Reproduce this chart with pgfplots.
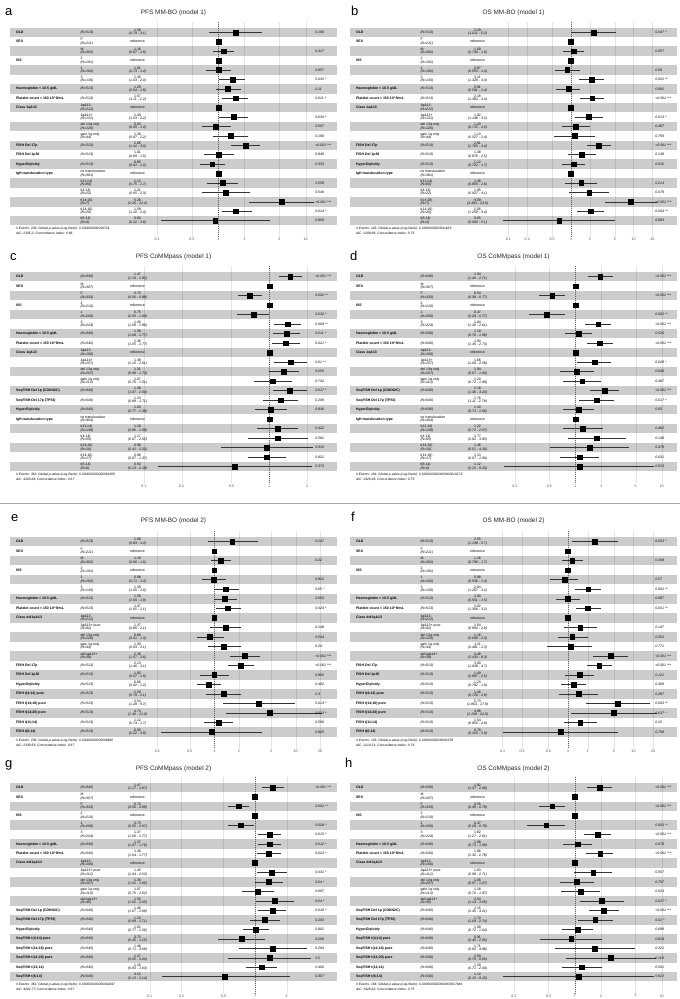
\documentclass[border=0pt]{standalone}
\usepackage{fontspec}
\setmainfont{Liberation Sans}
\usepackage{pgfplots}
\usepackage{pgfplotstable}
\pgfplotsset{compat=1.18}

\tikzset{
 vn/.style={anchor=west,inner sep=0pt,font=\fontsize{3.5}{3.4}\selectfont\bfseries},
 nn/.style={anchor=west,inner sep=0pt,align=left,font=\fontsize{3.5}{3.3}\selectfont},
 en/.style={anchor=center,inner sep=0pt,align=center,font=\fontsize{3.5}{3.3}\selectfont},
 pn/.style={anchor=west,inner sep=0pt,font=\fontsize{3.5}{3.4}\selectfont\itshape},
 fn/.style={anchor=west,inner sep=0pt,align=left,font=\fontsize{3.3}{5}\selectfont\itshape},
 ttl/.style={anchor=base,inner sep=0pt,font=\fontsize{6.4}{7}\selectfont,text=black!85},
 lett/.style={anchor=base west,inner sep=0pt,font=\fontsize{13}{15}\selectfont},
}
\pgfplotsset{forestax/.style={
 scale only axis, width=327pt, anchor=north west,
 y dir=reverse, ymin=-0.1, ymax=22.75,
 axis line style={draw=none}, major tick style={draw=none}, minor tick style={draw=none},
 ytick=\empty, xmajorgrids, grid style={black!10,line width=0.4pt},
 clip=false,
 xticklabel style={font=\fontsize{3.6}{4}\selectfont, text=black!70, inner sep=1pt},
}}

% text helpers
\newcommand\V[3]{\node[vn] at ({rel axis cs:0.018,0}|-{axis cs:1,#1}) {#2};\node[nn] at ({rel axis cs:0.215,0}|-{axis cs:1,#1}) {\itshape #3};}
\newcommand\VL[4]{\node[vn] at ({rel axis cs:0.018,0}|-{axis cs:1,#1}) {#2};\node[nn] at ({rel axis cs:0.215,0}|-{axis cs:1,#1}) {#3\\\itshape #4};}
\newcommand\E[4]{\node[en] at ({rel axis cs:0.39,0}|-{axis cs:1,#1}) {#2\\\itshape #3};\node[pn] at ({rel axis cs:0.933,0}|-{axis cs:1,#1}) {#4};}
\newcommand\Eref[1]{\node[en] at ({rel axis cs:0.39,0}|-{axis cs:1,#1}) {reference};}
\newcommand\Foot[2]{\node[fn] at ({rel axis cs:0.018,0}|-{axis cs:1,22.12}) {#1\\#2};}
\newcommand\Sb[2]{\fill[black,fill opacity=0.2] ({rel axis cs:0,0}|-{axis cs:1,#1}) rectangle ({rel axis cs:1,0}|-{axis cs:1,#2});}
\newcommand\Stripes{\Sb{0.5}{1.5}\Sb{2.5}{3.5}\Sb{4.5}{5.5}\Sb{6.5}{7.5}\Sb{8.5}{9.5}\Sb{10.5}{11.5}\Sb{12.5}{13.5}\Sb{14.5}{15.5}\Sb{16.5}{17.5}\Sb{18.5}{19.5}\Sb{20.5}{21.5}}
\newcommand\RefLine{\addplot[black!60, dash pattern=on 1pt off 1pt, line width=0.35pt] coordinates {(1,-0.1) (1,22.75)};}
\newcommand\Forest[1]{\addplot[black, only marks, mark=square*, mark size=2.4pt,
  error bars/.cd, x dir=both, x explicit, error mark=none, error bar style={black!80,line width=0.5pt}]
  table[x=hr,y=row,x error plus expr=\thisrow{hi}-\thisrow{hr},x error minus expr=\thisrow{hr}-\thisrow{lo}] {#1};}

% label sets
\newcommand\LabMMBOone{%
\V{1}{OLD}{(N=513)}
\VL{2}{SEX}{F}{(N=211)}
\VL{3}{}{M}{(N=302)}
\VL{4}{ISS}{2}{(N=191)}
\VL{5}{}{1}{(N=192)}
\VL{6}{}{3}{(N=130)}
\V{7}{Haemoglobin < 10.5 g/dL}{(N=513)}
\V{8}{Platelet count < 150 10\textasciicircum{}9/mL}{(N=513)}
\VL{9}{Class 1q\&13}{1q\&13-}{(N=212)}
\VL{10}{}{1q\&13+}{(N=131)}
\VL{11}{}{del 13q only}{(N=126)}
\VL{12}{}{gain 1q only}{(N=44)}
\V{13}{FISH Del 17p}{(N=513)}
\V{14}{FISH Del 1p36}{(N=513)}
\V{15}{HyperDiploidy}{(N=513)}
\VL{16}{IgH translocation type}{no translocation}{(N=381)}
\VL{17}{}{t(11;14)}{(N=80)}
\VL{18}{}{t(4;14)}{(N=22)}
\VL{19}{}{t(14;20)}{(N=7)}
\VL{20}{}{t(14;16)}{(N=20)}
\VL{21}{}{t(6;14)}{(N=3)}
\Eref{2}\Eref{4}\Eref{9}\Eref{16}}

\newcommand\LabCMone{%
\V{1}{OLD}{(N=640)}
\VL{2}{SEX}{M}{(N=307)}
\VL{3}{}{F}{(N=333)}
\VL{4}{ISS}{2}{(N=210)}
\VL{5}{}{1}{(N=206)}
\VL{6}{}{3}{(N=224)}
\V{7}{Haemoglobin < 10.5 g/dL}{(N=640)}
\V{8}{Platelet count < 150 10\textasciicircum{}9/mL}{(N=640)}
\VL{9}{Class 1q\&13}{1q\&13-}{(N=166)}
\VL{10}{}{1q\&13+}{(N=157)}
\VL{11}{}{del 13q only}{(N=207)}
\VL{12}{}{gain 1q only}{(N=110)}
\V{13}{SeqFISH Del 1p (CDKN2C)}{(N=640)}
\V{14}{SeqFISH Del 17p (TP53)}{(N=640)}
\V{15}{HyperDiploidy}{(N=640)}
\VL{16}{IgH translocation type}{no translocation}{(N=404)}
\VL{17}{}{t(11;14)}{(N=138)}
\VL{18}{}{t(4;14)}{(N=65)}
\VL{19}{}{t(14;20)}{(N=10)}
\VL{20}{}{t(14;16)}{(N=17)}
\VL{21}{}{t(6;14)}{(N=6)}
\Eref{2}\Eref{4}\Eref{9}\Eref{16}}

\newcommand\LabMMBOtwo{%
\V{1}{OLD}{(N=513)}
\VL{2}{SEX}{F}{(N=211)}
\VL{3}{}{M}{(N=302)}
\VL{4}{ISS}{2}{(N=191)}
\VL{5}{}{1}{(N=192)}
\VL{6}{}{3}{(N=130)}
\V{7}{Haemoglobin < 10.5 g/dL}{(N=513)}
\V{8}{Platelet count < 150 10\textasciicircum{}9/mL}{(N=513)}
\VL{9}{Class del1q\&13}{1q\&13-}{(N=212)}
\VL{10}{}{1q\&13+ pure}{(N=92)}
\VL{11}{}{del 13q only}{(N=126)}
\VL{12}{}{gain 1q only}{(N=44)}
\VL{13}{}{del1q\&13+}{(N=39)}
\V{14}{FISH Del 17p}{(N=513)}
\V{15}{FISH Del 1p36}{(N=513)}
\V{16}{HyperDiploidy}{(N=513)}
\V{17}{FISH t(4;14) pure}{(N=513)}
\V{18}{FISH t(14;16) pure}{(N=513)}
\V{19}{FISH t(14;20) pure}{(N=513)}
\V{20}{FISH t(11;14)}{(N=513)}
\V{21}{FISH t(6;14)}{(N=513)}
\Eref{2}\Eref{4}\Eref{9}}

\newcommand\LabCMtwo{%
\V{1}{OLD}{(N=640)}
\VL{2}{SEX}{M}{(N=307)}
\VL{3}{}{F}{(N=333)}
\VL{4}{ISS}{2}{(N=210)}
\VL{5}{}{1}{(N=206)}
\VL{6}{}{3}{(N=224)}
\V{7}{Haemoglobin < 10.5 g/dL}{(N=640)}
\V{8}{Platelet count < 150 10\textasciicircum{}9/mL}{(N=640)}
\VL{9}{Class del1q\&13}{1q\&13-}{(N=166)}
\VL{10}{}{1q\&13+ pure}{(N=112)}
\VL{11}{}{del 13q only}{(N=207)}
\VL{12}{}{gain 1q only}{(N=110)}
\VL{13}{}{del1q\&13+}{(N=45)}
\V{14}{SeqFISH Del 1p (CDKN2C)}{(N=640)}
\V{15}{SeqFISH Del 17p (TP53)}{(N=640)}
\V{16}{HyperDiploidy}{(N=640)}
\V{17}{SeqFISH t(4;14) pure}{(N=640)}
\V{18}{SeqFISH t(14;16) pure}{(N=640)}
\V{19}{SeqFISH t(14;20) pure}{(N=640)}
\V{20}{SeqFISH t(11;14)}{(N=640)}
\V{21}{SeqFISH t(6;14)}{(N=640)}
\Eref{2}\Eref{4}\Eref{9}}

% ---------------- data ----------------
\pgfplotstableread{
row hr lo hi
1 1.58 0.79 3.16
2 1 1 1
3 1.16 0.87 1.5
4 1 1 1
5 1.01 0.73 1.4
6 1.45 1.03 2.04
7 1.29 0.94 1.8
8 1.57 1.11 2.2
9 1 1 1
10 1.49 1.03 2.2
11 0.93 0.65 1.4
12 1.39 0.87 2.2
13 2.06 1.41 3.0
14 1.01 0.69 1.5
15 0.85 0.61 1.2
16 1 1 1
17 1.13 0.75 1.7
18 1.21 0.65 2.3
19 5.26 2.26 12.4
20 1.59 1.10 2.4
21 0.92 0.22 3.9
}\datA
\pgfplotstableread{
row hr lo hi
1 2.29 1.011 5.2
2 1 1 1
3 1.09 0.734 1.6
4 1 1 1
5 0.87 0.553 1.4
6 2.11 1.328 3.4
7 0.91 0.581 1.4
8 2.18 1.383 3.4
9 1 1 1
10 1.92 1.148 3.2
11 1.20 0.715 2.0
12 1.13 0.527 2.4
13 2.81 1.783 4.4
14 1.48 0.879 2.5
15 1.12 0.722 1.7
16 1 1 1
17 1.46 0.805 2.6
18 1.95 0.927 4.1
19 9.09 3.493 23.6
20 2.06 1.259 3.4
21 0.65 0.083 5.1
}\datB
\pgfplotstableread{
row hr lo hi
1 1.47 1.19 1.82
2 1 1 1
3 0.70 0.56 0.88
4 1 1 1
5 0.75 0.55 1.00
6 1.40 1.09 1.80
7 1.38 1.08 1.77
8 1.36 1.05 1.77
9 1 1 1
10 1.49 1.10 2.01
11 1.31 0.99 1.73
12 1.07 0.76 1.51
13 1.46 1.07 2.00
14 1.23 0.89 1.71
15 1.03 0.77 1.38
16 1 1 1
17 1.16 0.80 1.69
18 1.17 0.67 2.05
19 0.96 0.41 2.23
20 0.96 0.67 1.37
21 0.53 0.13 2.18
}\datC
\pgfplotstableread{
row hr lo hi
1 1.94 1.40 2.71
2 1 1 1
3 0.54 0.38 0.77
4 1 1 1
5 0.47 0.29 0.77
6 1.84 1.30 2.61
7 1.10 0.76 1.58
8 1.93 1.36 2.73
9 1 1 1
10 1.66 1.06 2.59
11 1.04 0.67 1.63
12 1.20 0.72 1.99
13 2.18 1.46 3.23
14 1.76 1.11 2.79
15 1.10 0.73 1.65
16 1 1 1
17 1.22 0.72 2.07
18 1.77 0.82 3.83
19 1.46 0.51 4.18
20 1.13 0.67 1.90
21 1.12 0.15 8.23
}\datD
\pgfplotstableread{
row hr lo hi
1 1.66 0.83 3.4
2 1 1 1
3 1.19 0.90 1.6
4 1 1 1
5 0.98 0.71 1.4
6 1.39 1.00 2.0
7 1.35 1.00 1.9
8 1.47 1.05 2.1
9 1 1 1
10 1.37 0.89 2.1
11 0.88 0.61 1.3
12 1.30 0.83 2.1
13 2.36 1.57 3.6
14 2.13 1.46 3.1
15 1.00 0.67 1.5
16 0.86 0.62 1.2
17 1.29 0.79 2.1
18 3.54 1.28 9.7
19 4.74 1.40 21.0
20 1.12 0.74 1.7
21 0.93 0.22 3.9
}\datE
\pgfplotstableread{
row hr lo hi
1 2.55 1.138 5.7
2 1 1 1
3 1.16 0.798 1.7
4 1 1 1
5 0.88 0.536 1.4
6 2.04 1.297 3.2
7 1.00 0.651 1.5
8 2.02 1.309 3.2
9 1 1 1
10 1.54 0.854 2.8
11 1.16 0.699 2.0
12 1.11 0.481 2.3
13 4.48 2.433 8.3
14 3.00 1.939 4.7
15 1.49 0.897 2.5
16 1.23 0.792 1.9
17 1.46 0.729 2.9
18 5.73 1.863 17.9
19 4.98 1.108 22.6
20 1.54 0.854 2.8
21 0.78 0.103 5.9
}\datF
\pgfplotstableread{
row hr lo hi
1 1.47 1.17 1.87
2 1 1 1
3 0.70 0.56 0.88
4 1 1 1
5 0.73 0.55 0.97
6 1.37 1.06 1.77
7 1.37 1.07 1.76
8 1.36 1.04 1.77
9 1 1 1
10 1.45 1.04 2.03
11 1.36 1.01 1.85
12 1.07 0.75 1.52
13 1.55 1.02 2.35
14 1.46 1.07 1.99
15 1.23 0.89 1.71
16 1.02 0.77 1.36
17 0.75 0.45 1.25
18 1.48 0.71 3.09
19 1.37 0.55 3.40
20 1.16 0.83 1.63
21 0.52 0.13 2.14
}\datG
\pgfplotstableread{
row hr lo hi
1 1.92 1.37 2.68
2 1 1 1
3 0.55 0.39 0.78
4 1 1 1
5 0.47 0.28 0.78
6 1.82 1.27 2.61
7 1.08 0.73 1.58
8 1.96 1.36 2.78
9 1 1 1
10 1.63 0.98 2.71
11 1.06 0.67 1.67
12 1.18 0.70 1.97
13 2.04 1.14 3.65
14 2.15 1.45 3.21
15 1.72 1.09 2.74
16 1.09 0.72 1.64
17 0.91 0.40 2.05
18 1.71 0.60 4.88
19 2.60 0.79 8.50
20 1.20 0.71 2.04
21 1.12 0.15 8.15
}\datH

\begin{document}
\begin{tikzpicture}
\path[use as bounding box] (0pt,0pt) rectangle (680pt,-999pt);
\draw[black!35, line width=0.8pt] (0pt,-503pt) -- (680pt,-503pt);

% ===== a =====
\node[lett] at (5pt,-15pt) {a};
\node[ttl] at (173.5pt,-14pt) {PFS MM-BO (model 1)};
\begin{semilogxaxis}[forestax, at={(10pt,-21.94pt)}, height=215.2pt, xmin=0.004137, xmax=22.81,
 xtick={0.2,0.5,1,2,5,10}, xticklabels={0.2,0.5,1,2,5,10}]
\Stripes \RefLine \Forest{\datA}
\LabMMBOone
\E{1}{1.58}{(0.79 - 3.1)}{0.166}
\E{3}{1.16}{(0.87 - 1.5)}{0.317}
\E{5}{1.01}{(0.73 - 1.4)}{0.957}
\E{6}{1.45}{(1.03 - 2.0)}{0.033 *}
\E{7}{1.29}{(0.94 - 1.8)}{0.11}
\E{8}{1.57}{(1.11 - 2.2)}{0.011 *}
\E{10}{1.49}{(1.03 - 2.2)}{0.034 *}
\E{11}{0.93}{(0.65 - 1.4)}{0.697}
\E{12}{1.39}{(0.87 - 2.2)}{0.168}
\E{13}{2.06}{(1.41 - 3.0)}{<0.001 ***}
\E{14}{1.01}{(0.69 - 1.5)}{0.949}
\E{15}{0.85}{(0.61 - 1.2)}{0.333}
\E{17}{1.13}{(0.75 - 1.7)}{0.558}
\E{18}{1.21}{(0.65 - 2.3)}{0.549}
\E{19}{5.26}{(2.26 - 12.4)}{<0.001 ***}
\E{20}{1.59}{(1.10 - 2.4)}{0.014 *}
\E{21}{0.92}{(0.22 - 3.9)}{0.909}
\Foot{\# Events: 236; Global p-value (Log-Rank): 0.000000000018724}{AIC: 2335.2; Concordance Index: 0.66}
\end{semilogxaxis}

% ===== b =====
\node[lett] at (351pt,-15pt) {b};
\node[ttl] at (513.5pt,-14pt) {OS MM-BO (model 1)};
\begin{semilogxaxis}[forestax, at={(350pt,-21.94pt)}, height=215.2pt, xmin=0.0002948, xmax=49.34,
 xtick={0.1,0.2,0.5,1,2,5,10,20}, xticklabels={0.1,0.2,0.5,1,2,5,10,20}]
\Stripes \RefLine \Forest{\datB}
\LabMMBOone
\E{1}{2.29}{(1.011 - 5.2)}{0.047 *}
\E{3}{1.09}{(0.734 - 1.6)}{0.657}
\E{5}{0.87}{(0.553 - 1.4)}{0.59}
\E{6}{2.11}{(1.328 - 3.4)}{0.002 **}
\E{7}{0.91}{(0.581 - 1.4)}{0.682}
\E{8}{2.18}{(1.383 - 3.4)}{<0.001 ***}
\E{10}{1.92}{(1.148 - 3.2)}{0.013 *}
\E{11}{1.20}{(0.715 - 2.0)}{0.487}
\E{12}{1.13}{(0.527 - 2.4)}{0.759}
\E{13}{2.81}{(1.783 - 4.4)}{<0.001 ***}
\E{14}{1.48}{(0.879 - 2.5)}{0.148}
\E{15}{1.12}{(0.722 - 1.7)}{0.616}
\E{17}{1.46}{(0.805 - 2.6)}{0.214}
\E{18}{1.95}{(0.927 - 4.1)}{0.078}
\E{19}{9.09}{(3.493 - 23.6)}{<0.001 ***}
\E{20}{2.06}{(1.259 - 3.4)}{0.004 **}
\E{21}{0.65}{(0.083 - 5.1)}{0.683}
\Foot{\# Events: 126; Global p-value (Log-Rank): 0.0000000000041633}{AIC: 1208.86; Concordance Index: 0.75}
\end{semilogxaxis}

% ===== c =====
\node[lett] at (10pt,-260pt) {c};
\node[ttl] at (173.5pt,-258.3pt) {PFS CoMMpass (model 1)};
\begin{semilogxaxis}[forestax, at={(10pt,-266.25pt)}, height=217.1pt, xmin=0.008524, xmax=3.470,
 xtick={0.1,0.2,0.5,1,2}, xticklabels={0.1,0.2,0.5,1,2}]
\Stripes \RefLine \Forest{\datC}
\LabCMone
\E{1}{1.47}{(1.19 - 1.82)}{<0.001 ***}
\E{3}{0.70}{(0.56 - 0.88)}{0.002 **}
\E{5}{0.75}{(0.55 - 1.00)}{0.032 *}
\E{6}{1.40}{(1.09 - 1.80)}{0.009 **}
\E{7}{1.38}{(1.08 - 1.77)}{0.011 *}
\E{8}{1.36}{(1.05 - 1.77)}{0.021 *}
\E{10}{1.49}{(1.10 - 2.01)}{0.01 **}
\E{11}{1.31}{(0.99 - 1.73)}{0.053}
\E{12}{1.07}{(0.76 - 1.51)}{0.702}
\E{13}{1.46}{(1.07 - 2.00)}{0.017 *}
\E{14}{1.23}{(0.89 - 1.71)}{0.208}
\E{15}{1.03}{(0.77 - 1.38)}{0.836}
\E{17}{1.16}{(0.80 - 1.69)}{0.422}
\E{18}{1.17}{(0.67 - 2.05)}{0.581}
\E{19}{0.96}{(0.41 - 2.23)}{0.916}
\E{20}{0.96}{(0.67 - 1.37)}{0.822}
\E{21}{0.53}{(0.13 - 2.18)}{0.373}
\Foot{\# Events: 361; Global p-value (Log-Rank): 0.000000000000001659}{AIC: 4263.68; Concordance Index: 0.67}
\end{semilogxaxis}

% ===== d =====
\node[lett] at (350pt,-260pt) {d};
\node[ttl] at (513.5pt,-258.3pt) {OS CoMMpass (model 1)};
\begin{semilogxaxis}[forestax, at={(350pt,-266.25pt)}, height=217.1pt, xmin=0.002469, xmax=15.03,
 xtick={0.2,0.5,1,2,5,10}, xticklabels={0.2,0.5,1,2,5,10}]
\Stripes \RefLine \Forest{\datD}
\LabCMone
\E{1}{1.94}{(1.40 - 2.71)}{<0.001 ***}
\E{3}{0.54}{(0.38 - 0.77)}{<0.001 ***}
\E{5}{0.47}{(0.29 - 0.77)}{0.002 **}
\E{6}{1.84}{(1.30 - 2.61)}{<0.001 ***}
\E{7}{1.10}{(0.76 - 1.58)}{0.626}
\E{8}{1.93}{(1.36 - 2.73)}{<0.001 ***}
\E{10}{1.66}{(1.06 - 2.59)}{0.028 *}
\E{11}{1.04}{(0.67 - 1.63)}{0.849}
\E{12}{1.20}{(0.72 - 1.99)}{0.487}
\E{13}{2.18}{(1.46 - 3.23)}{<0.001 ***}
\E{14}{1.76}{(1.11 - 2.79)}{0.017 *}
\E{15}{1.10}{(0.73 - 1.65)}{0.65}
\E{17}{1.22}{(0.72 - 2.07)}{0.462}
\E{18}{1.77}{(0.82 - 3.83)}{0.149}
\E{19}{1.46}{(0.51 - 4.18)}{0.479}
\E{20}{1.13}{(0.67 - 1.90)}{0.631}
\E{21}{1.12}{(0.15 - 8.23)}{0.913}
\Foot{\# Events: 164; Global p-value (Log-Rank): 0.0000000000000000010173}{AIC: 1926.96; Concordance Index: 0.75}
\end{semilogxaxis}

% ===== e =====
\node[lett] at (11pt,-521pt) {e};
\node[ttl] at (173.5pt,-522.3pt) {PFS MM-BO (model 2)};
\begin{semilogxaxis}[forestax, at={(10pt,-531.2pt)}, height=217.4pt, xmin=0.003092, xmax=32.17,
 xtick={0.2,0.5,1,2,5,10,20}, xticklabels={0.2,0.5,1,2,5,10,20}]
\Stripes \RefLine \Forest{\datE}
\LabMMBOtwo
\E{1}{1.66}{(0.83 - 3.4)}{0.147}
\E{3}{1.19}{(0.90 - 1.6)}{0.22}
\E{5}{0.98}{(0.71 - 1.4)}{0.922}
\E{6}{1.39}{(1.00 - 2.0)}{0.05 *}
\E{7}{1.35}{(1.00 - 1.9)}{0.053}
\E{8}{1.47}{(1.05 - 2.1)}{0.024 *}
\E{10}{1.37}{(0.89 - 2.1)}{0.148}
\E{11}{0.88}{(0.61 - 1.3)}{0.544}
\E{12}{1.30}{(0.83 - 2.1)}{0.24}
\E{13}{2.36}{(1.57 - 3.6)}{<0.001 ***}
\E{14}{2.13}{(1.46 - 3.1)}{<0.001 ***}
\E{15}{1.00}{(0.67 - 1.5)}{0.952}
\E{16}{0.86}{(0.62 - 1.2)}{0.402}
\E{17}{1.29}{(0.79 - 2.1)}{0.3}
\E{18}{3.54}{(1.28 - 9.7)}{0.013 *}
\E{19}{4.74}{(1.40 - 21.0)}{0.013 *}
\E{20}{1.12}{(0.74 - 1.7)}{0.568}
\E{21}{0.93}{(0.22 - 3.9)}{0.925}
\Foot{\# Events: 236; Global p-value (Log-Rank): 0.00000000000009882}{AIC: 2330.59; Concordance Index: 0.67}
\end{semilogxaxis}

% ===== f =====
\node[lett] at (351pt,-521pt) {f};
\node[ttl] at (513.5pt,-522.3pt) {OS MM-BO (model 2)};
\begin{semilogxaxis}[forestax, at={(350pt,-531.2pt)}, height=217.4pt, xmin=0.0004696, xmax=46.15,
 xtick={0.1,0.2,0.5,1,2,5,10,20}, xticklabels={0.1,0.2,0.5,1,2,5,10,20}]
\Stripes \RefLine \Forest{\datF}
\LabMMBOtwo
\E{1}{2.55}{(1.138 - 5.7)}{0.023 *}
\E{3}{1.16}{(0.798 - 1.7)}{0.438}
\E{5}{0.88}{(0.536 - 1.4)}{0.57}
\E{6}{2.04}{(1.297 - 3.2)}{0.002 **}
\E{7}{1.00}{(0.651 - 1.5)}{0.987}
\E{8}{2.02}{(1.309 - 3.2)}{0.001 **}
\E{10}{1.54}{(0.854 - 2.8)}{0.147}
\E{11}{1.16}{(0.699 - 2.0)}{0.552}
\E{12}{1.11}{(0.481 - 2.3)}{0.771}
\E{13}{4.48}{(2.433 - 8.3)}{<0.001 ***}
\E{14}{3.00}{(1.939 - 4.7)}{<0.001 ***}
\E{15}{1.49}{(0.897 - 2.5)}{0.121}
\E{16}{1.23}{(0.792 - 1.9)}{0.369}
\E{17}{1.46}{(0.729 - 2.9)}{0.287}
\E{18}{5.73}{(1.863 - 17.9)}{0.003 **}
\E{19}{4.98}{(1.108 - 22.6)}{0.037 *}
\E{20}{1.54}{(0.854 - 2.8)}{0.15}
\E{21}{0.78}{(0.103 - 5.9)}{0.798}
\Foot{\# Events: 126; Global p-value (Log-Rank): 0.00000000000001978}{AIC: 1210.21; Concordance Index: 0.76}
\end{semilogxaxis}

% ===== g =====
\node[lett] at (5pt,-767pt) {g};
\node[ttl] at (173.5pt,-770pt) {PFS CoMMpass (model 2)};
\begin{semilogxaxis}[forestax, at={(10pt,-776.9pt)}, height=216.4pt, xmin=0.004713, xmax=6.007,
 xtick={0.1,0.2,0.5,1,2}, xticklabels={0.1,0.2,0.5,1,2}]
\Stripes \RefLine \Forest{\datG}
\LabCMtwo
\E{1}{1.47}{(1.17 - 1.87)}{<0.001 ***}
\E{3}{0.70}{(0.56 - 0.88)}{0.002 **}
\E{5}{0.73}{(0.55 - 0.97)}{0.028 *}
\E{6}{1.37}{(1.06 - 1.77)}{0.015 *}
\E{7}{1.37}{(1.07 - 1.76)}{0.012 *}
\E{8}{1.36}{(1.04 - 1.77)}{0.024 *}
\E{10}{1.45}{(1.04 - 2.03)}{0.031 *}
\E{11}{1.36}{(1.01 - 1.85)}{0.04 *}
\E{12}{1.07}{(0.75 - 1.52)}{0.697}
\E{13}{1.55}{(1.02 - 2.35)}{0.04 *}
\E{14}{1.46}{(1.07 - 1.99)}{0.018 *}
\E{15}{1.23}{(0.89 - 1.71)}{0.203}
\E{16}{1.02}{(0.77 - 1.36)}{0.902}
\E{17}{0.75}{(0.45 - 1.25)}{0.269}
\E{18}{1.48}{(0.71 - 3.09)}{0.294}
\E{19}{1.37}{(0.55 - 3.40)}{0.5}
\E{20}{1.16}{(0.83 - 1.63)}{0.400}
\E{21}{0.52}{(0.13 - 2.14)}{0.367}
\Foot{\# Events: 361; Global p-value (Log-Rank): 0.000000000000002847}{AIC: 4262.77; Concordance Index: 0.67}
\end{semilogxaxis}

% ===== h =====
\node[lett] at (345pt,-767pt) {h};
\node[ttl] at (513.5pt,-770pt) {OS CoMMpass (model 2)};
\begin{semilogxaxis}[forestax, at={(350pt,-776.9pt)}, height=216.4pt, xmin=0.002613, xmax=14.99,
 xtick={0.2,0.5,1,2,5,10}, xticklabels={0.2,0.5,1,2,5,10}]
\Stripes \RefLine \Forest{\datH}
\LabCMtwo
\E{1}{1.92}{(1.37 - 2.68)}{<0.001 ***}
\E{3}{0.55}{(0.39 - 0.78)}{<0.001 ***}
\E{5}{0.47}{(0.28 - 0.78)}{0.003 **}
\E{6}{1.82}{(1.27 - 2.61)}{<0.001 ***}
\E{7}{1.08}{(0.73 - 1.58)}{0.678}
\E{8}{1.96}{(1.36 - 2.78)}{<0.001 ***}
\E{10}{1.63}{(0.98 - 2.71)}{0.057}
\E{11}{1.06}{(0.67 - 1.67)}{0.797}
\E{12}{1.18}{(0.70 - 1.97)}{0.523}
\E{13}{2.04}{(1.14 - 3.65)}{0.017 *}
\E{14}{2.15}{(1.45 - 3.21)}{<0.001 ***}
\E{15}{1.72}{(1.09 - 2.74)}{0.02 *}
\E{16}{1.09}{(0.72 - 1.64)}{0.689}
\E{17}{0.91}{(0.40 - 2.05)}{0.819}
\E{18}{1.71}{(0.60 - 4.88)}{0.321}
\E{19}{2.60}{(0.79 - 8.50)}{0.118}
\E{20}{1.20}{(0.71 - 2.04)}{0.501}
\E{21}{1.12}{(0.15 - 8.15)}{0.922}
\Foot{\# Events: 164; Global p-value (Log-Rank): 0.0000000000000000017946}{AIC: 1929.62; Concordance Index: 0.75}
\end{semilogxaxis}
\end{tikzpicture}
\end{document}
